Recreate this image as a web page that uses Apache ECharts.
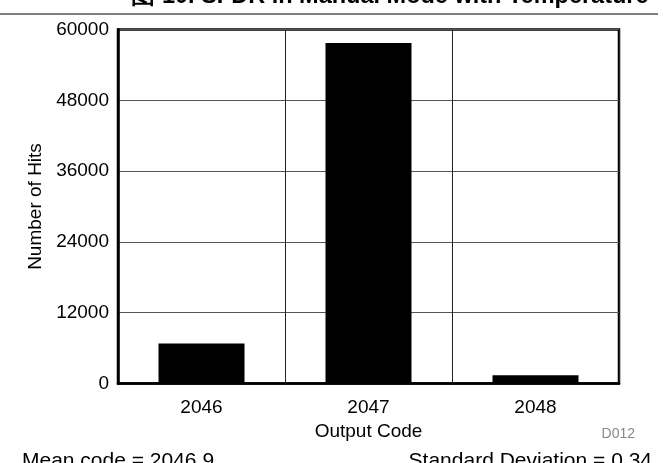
<!DOCTYPE html>
<html>
<head>
<meta charset="utf-8">
<script src="https://cdn.jsdelivr.net/npm/echarts@6/dist/echarts.min.js"></script>
<style>html,body{margin:0;padding:0;background:#fff;}#c{width:663px;height:463px;}</style>
</head>
<body>
<div id="c"></div>
<script>
var categories = ['2046', '2047', '2048'];
var hits = [6800, 57700, 1400];
var yTicks = { min: 0, max: 60000, interval: 12000 };
var titleText = '图 10. SFDR in Manual Mode with Temperature';
var xName = 'Output Code';
var yName = 'Number of Hits';
var meanText = 'Mean code = 2046.9';
var sdText = 'Standard Deviation = 0.34';
var tagText = 'D012';

var font = '"Liberation Sans", Arial, sans-serif';
var chart = echarts.init(document.getElementById('c'));
chart.setOption({
  animation: false,
  backgroundColor: '#fff',
  grid: { left: 118, right: 44, top: 29.5, bottom: 79.5, show: true, borderColor: '#000', borderWidth: 2.5, backgroundColor: 'transparent' },
  xAxis: {
    type: 'category', data: categories, boundaryGap: true,
    axisLine: { show: true, lineStyle: { color: '#000', width: 2.5 } },
    axisTick: { show: false },
    splitLine: { show: true, interval: 0, lineStyle: { color: '#222', width: 1 } },
    axisLabel: { color: '#000', fontSize: 19, fontFamily: font, margin: 15 },
    name: xName, nameLocation: 'middle', nameGap: 36,
    nameTextStyle: { color: '#000', fontSize: 19, fontFamily: font }
  },
  yAxis: {
    type: 'value', min: yTicks.min, max: yTicks.max, interval: yTicks.interval,
    axisLine: { show: true, lineStyle: { color: '#000', width: 2.5 } },
    axisTick: { show: false },
    splitLine: { show: true, lineStyle: { color: '#555', width: 1 } },
    axisLabel: { color: '#000', fontSize: 19, fontFamily: font, margin: 9, formatter: function (v) { return String(v); } },
    name: yName, nameLocation: 'middle', nameGap: 64, nameRotate: 90,
    nameTextStyle: { color: '#000', fontSize: 19, fontFamily: font }
  },
  series: [{
    type: 'bar', data: hits, barWidth: '51.5%',
    itemStyle: { color: '#000' }
  }],
  graphic: [
    { type: 'text', x: 390, y: 9, style: { text: titleText, fontSize: 23.5, fontWeight: 'bold', fontFamily: font, fill: '#000', align: 'center', verticalAlign: 'bottom' } },
    { type: 'line', shape: { x1: 0, y1: 14, x2: 658, y2: 14 }, style: { stroke: '#000', lineWidth: 1.2 } },
    { type: 'text', right: 28, top: 427, style: { text: tagText, fontSize: 14, fontFamily: font, fill: '#888' } },
    { type: 'text', left: 22, top: 451, style: { text: meanText, fontSize: 21, fontFamily: font, fill: '#000' } },
    { type: 'text', right: 11, top: 451, style: { text: sdText, fontSize: 21, fontFamily: font, fill: '#000' } }
  ]
});
</script>
</body>
</html>
